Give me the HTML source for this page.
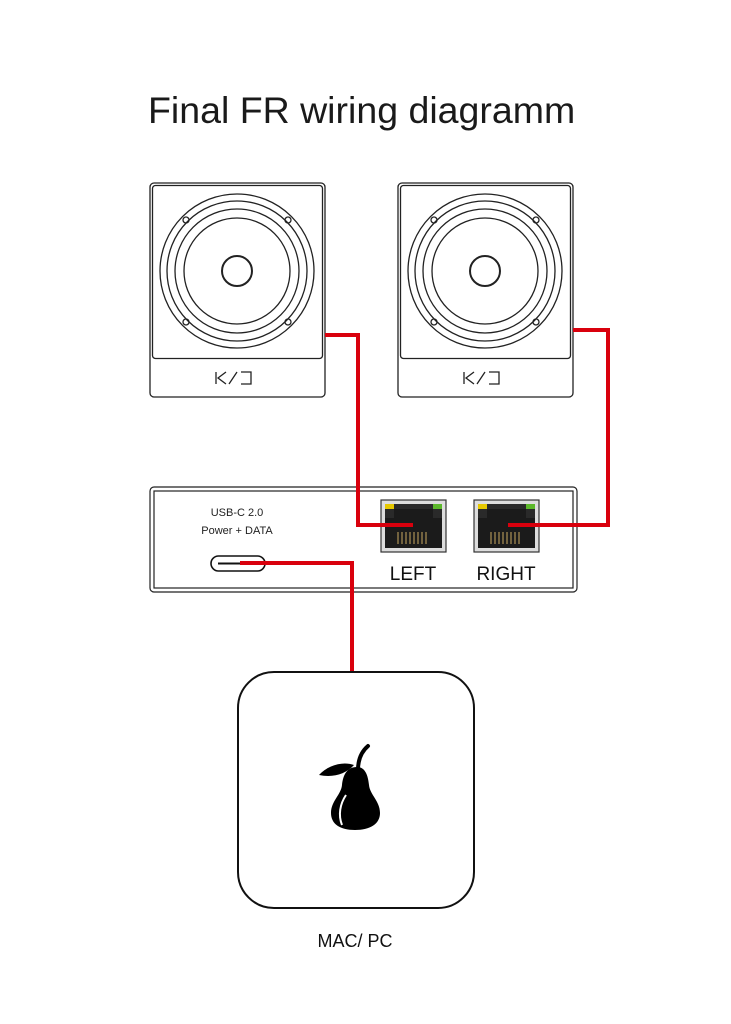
<!DOCTYPE html>
<html><head><meta charset="utf-8"><style>body{margin:0;background:#fff}svg{display:block}</style></head><body>
<svg width="731" height="1024" viewBox="0 0 731 1024" xmlns="http://www.w3.org/2000/svg" font-family="Liberation Sans, sans-serif">
<text x="148" y="123" font-size="37.5" fill="#1a1a1a">Final FR wiring diagramm</text>
<g id="spk" fill="none" stroke="#222" stroke-width="1.3">
<rect x="150" y="183" width="175" height="214" rx="4"/>
<rect x="152.5" y="185.5" width="170" height="173" rx="3"/>
<circle cx="237" cy="271" r="77"/>
<circle cx="237" cy="271" r="70"/>
<circle cx="237" cy="271" r="62"/>
<circle cx="237" cy="271" r="53"/>
<circle cx="237" cy="271" r="15" stroke-width="2"/>
<circle cx="186" cy="220" r="3"/><circle cx="288" cy="220" r="3"/>
<circle cx="186" cy="322" r="3"/><circle cx="288" cy="322" r="3"/>
<path d="M216 372v12M226 372l-8 6 8 6M229 384l8-12M241 372h10v12h-10" stroke-width="1.3"/>
</g>
<use href="#spk" x="248"/>
<rect x="150" y="487" width="427" height="105" rx="4" fill="none" stroke="#222" stroke-width="1.2"/>
<rect x="154" y="491" width="419" height="97" fill="none" stroke="#222" stroke-width="1.2"/>
<text x="237" y="516" font-size="11" text-anchor="middle" fill="#222">USB-C 2.0</text>
<text x="237" y="534" font-size="11" text-anchor="middle" fill="#222">Power + DATA</text>
<rect x="211" y="556" width="54" height="15" rx="7.5" fill="none" stroke="#111" stroke-width="1.6"/>
<line x1="218" y1="563.5" x2="258" y2="563.5" stroke="#111" stroke-width="2"/>
<g id="rj">
<rect x="381" y="500" width="65" height="52" fill="#ddd" stroke="#333" stroke-width="1.2"/>
<rect x="385" y="504" width="57" height="44" fill="#2a2a2a"/>
<rect x="385" y="504" width="9" height="5" fill="#e6c800"/>
<rect x="433" y="504" width="9" height="5" fill="#5cb82a"/>
<path d="M394 509h39v9h9v30h-57v-30h9z" fill="#1b1b1b"/>
<g stroke="#c8a860" stroke-width="1"><path d="M398 532v12M402 532v12M406 532v12M410 532v12M414 532v12M418 532v12M422 532v12M426 532v12"/></g>
</g>
<use href="#rj" x="93"/>
<text x="413" y="580" font-size="19" text-anchor="middle" fill="#111">LEFT</text>
<text x="506" y="580" font-size="19" text-anchor="middle" fill="#111">RIGHT</text>
<g fill="none" stroke="#d9000d" stroke-width="4">
<path d="M325 335H358V525H413"/>
<path d="M573 330H608V525H508"/>
<path d="M240 563H352V672"/>
</g>
<rect x="238" y="672" width="236" height="236" rx="36" fill="#fff" stroke="#111" stroke-width="2"/>
<g fill="#000">
<path d="M357 767c-10 0-14 8-15 18-1 10-11 16-11 28 0 11 9 17 24 17s25-6 25-17c0-12-10-18-11-28-1-10-4-18-12-18z"/>
<path d="M358 770c0-10 3-18 10-24" stroke="#000" stroke-width="4" fill="none" stroke-linecap="round"/>
<path d="M319 775c9-10 24-14 35-10-8 9-21 13-35 10z"/>
</g>
<path d="M346 795c-6 9-8 20-4 30" stroke="#fff" stroke-width="2" fill="none"/>
<text x="355" y="947" font-size="18" text-anchor="middle" fill="#111">MAC/ PC</text>
</svg>
</body></html>
